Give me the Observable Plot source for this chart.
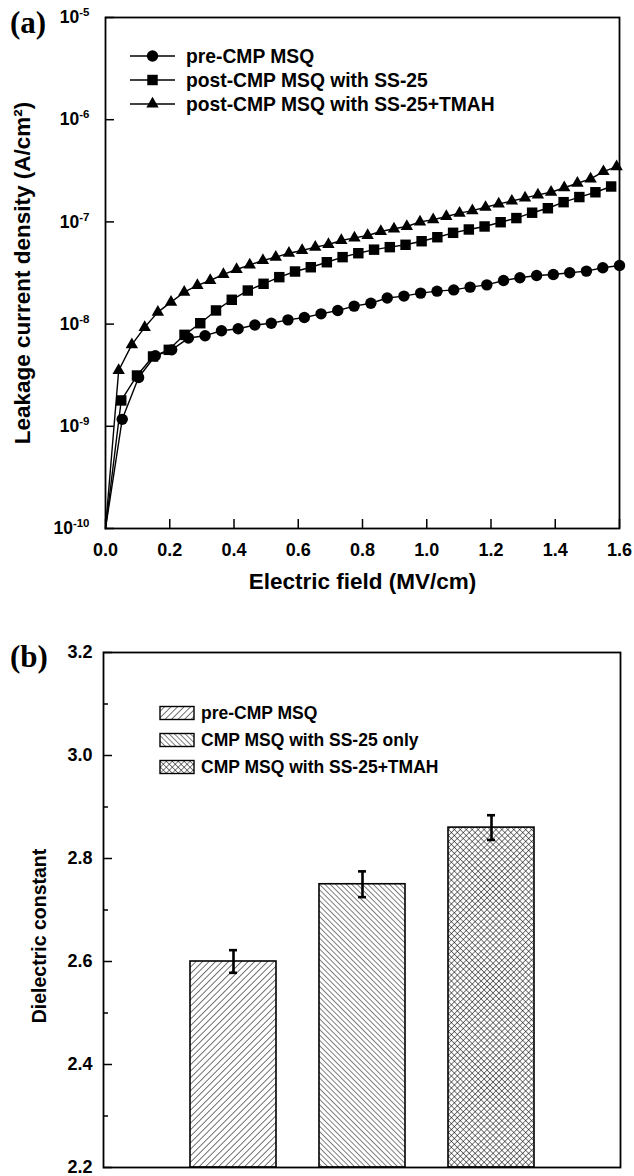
<!DOCTYPE html>
<html><head><meta charset="utf-8">
<script src="https://cdn.jsdelivr.net/npm/d3@7"></script>
<script src="https://cdn.jsdelivr.net/npm/@observablehq/plot@0.6"></script>
<style>
body{margin:0;background:#fff;}
#wrap{position:relative;width:634px;height:1176px;overflow:hidden;font-family:"Liberation Sans",Arial,sans-serif;background:#fff;}
.panel{position:absolute;left:0;}
.tag{position:absolute;font-family:"Liberation Serif","Times New Roman",serif;font-weight:bold;font-size:31px;line-height:1;}
</style></head><body>
<svg width="0" height="0" style="position:absolute">
<defs>
<pattern id="hatchA" patternUnits="userSpaceOnUse" width="4.6" height="4.6" patternTransform="rotate(45)"><rect width="4.6" height="4.6" fill="#fff"/><line x1="0" y1="0" x2="0" y2="4.6" stroke="#000" stroke-width="1.1"/></pattern>
<pattern id="hatchB" patternUnits="userSpaceOnUse" width="3.8" height="3.8" patternTransform="rotate(-45)"><rect width="3.8" height="3.8" fill="#fff"/><line x1="0" y1="0" x2="0" y2="3.8" stroke="#000" stroke-width="1"/></pattern>
<pattern id="hatchC" patternUnits="userSpaceOnUse" width="4.2" height="4.2" patternTransform="rotate(45)"><rect width="4.2" height="4.2" fill="#fff"/><line x1="0" y1="0" x2="0" y2="4.2" stroke="#000" stroke-width="1"/><line x1="0" y1="0" x2="4.2" y2="0" stroke="#000" stroke-width="1"/></pattern>
</defs></svg>
<div id="wrap">
  <div id="pa" class="panel" style="top:0"></div>
  <div id="pb" class="panel" style="top:630px"></div>
  <div class="tag" style="left:10px;top:7px">(a)</div>
  <div class="tag" style="left:10px;top:641px">(b)</div>
</div>
<script>
// ---------- Panel (a) data ----------
const seriesNames = ["pre-CMP MSQ", "post-CMP MSQ with SS-25", "post-CMP MSQ with SS-25+TMAH"];
const circleE = [0, 0.052, 0.103, 0.155, 0.206, 0.258, 0.310, 0.361, 0.413, 0.465, 0.516, 0.568, 0.619, 0.671, 0.723, 0.774, 0.826, 0.877, 0.929, 0.981, 1.032, 1.084, 1.135, 1.187, 1.239, 1.290, 1.342, 1.394, 1.445, 1.497, 1.548, 1.600];
const circleJ = [1e-10, 1.17e-9, 3.0e-9, 4.9e-9, 5.6e-9, 7.3e-9, 7.7e-9, 8.6e-9, 9.0e-9, 9.8e-9, 1.02e-8, 1.1e-8, 1.16e-8, 1.26e-8, 1.36e-8, 1.5e-8, 1.6e-8, 1.8e-8, 1.88e-8, 2.01e-8, 2.1e-8, 2.16e-8, 2.3e-8, 2.42e-8, 2.67e-8, 2.84e-8, 2.99e-8, 3.06e-8, 3.18e-8, 3.3e-8, 3.56e-8, 3.74e-8];
const squareE = [0, 0.049, 0.098, 0.148, 0.197, 0.246, 0.295, 0.344, 0.393, 0.443, 0.492, 0.541, 0.590, 0.639, 0.689, 0.738, 0.787, 0.836, 0.885, 0.934, 0.984, 1.033, 1.082, 1.131, 1.180, 1.230, 1.279, 1.328, 1.377, 1.426, 1.475, 1.525, 1.574];
const squareJ = [1e-10, 1.79e-9, 3.14e-9, 4.82e-9, 5.6e-9, 7.85e-9, 1.02e-8, 1.36e-8, 1.73e-8, 2.13e-8, 2.48e-8, 2.88e-8, 3.27e-8, 3.6e-8, 4.03e-8, 4.52e-8, 4.94e-8, 5.35e-8, 5.66e-8, 5.97e-8, 6.47e-8, 7.08e-8, 7.82e-8, 8.43e-8, 9.02e-8, 9.93e-8, 1.09e-7, 1.23e-7, 1.36e-7, 1.56e-7, 1.75e-7, 1.95e-7, 2.22e-7];
const triE = [0, 0.041, 0.082, 0.122, 0.163, 0.204, 0.245, 0.286, 0.326, 0.367, 0.408, 0.449, 0.490, 0.530, 0.571, 0.612, 0.653, 0.694, 0.734, 0.775, 0.816, 0.857, 0.898, 0.938, 0.979, 1.020, 1.061, 1.102, 1.142, 1.183, 1.224, 1.265, 1.306, 1.346, 1.387, 1.428, 1.469, 1.510, 1.550, 1.591];
const triJ = [1e-10, 3.52e-9, 6.3e-9, 9.3e-9, 1.31e-8, 1.64e-8, 2.05e-8, 2.39e-8, 2.67e-8, 3.06e-8, 3.42e-8, 3.8e-8, 4.19e-8, 4.52e-8, 4.94e-8, 5.25e-8, 5.66e-8, 6.01e-8, 6.58e-8, 6.98e-8, 7.36e-8, 8.06e-8, 8.56e-8, 9.02e-8, 1.0e-7, 1.05e-7, 1.13e-7, 1.22e-7, 1.29e-7, 1.39e-7, 1.5e-7, 1.6e-7, 1.72e-7, 1.84e-7, 1.95e-7, 2.16e-7, 2.39e-7, 2.64e-7, 3.11e-7, 3.48e-7];
const xTicksA = [0, 0.2, 0.4, 0.6, 0.8, 1.0, 1.2, 1.4, 1.6];
const yTicksA = [1e-10, 1e-9, 1e-8, 1e-7, 1e-6, 1e-5];
const xTitleA = "Electric field (MV/cm)";
const yTitleA = "Leakage current density (A/cm\u00B2)";

// ---------- Panel (b) data ----------
const barCategories = ["pre-CMP MSQ", "CMP MSQ with SS-25 only", "CMP MSQ with SS-25+TMAH"];
const barValues = [2.60, 2.75, 2.86];
const barErrors = [0.022, 0.025, 0.024];
const yTicksB = [2.2, 2.4, 2.6, 2.8, 3.0, 3.2];
const yMinorB = [2.3, 2.5, 2.7, 2.9, 3.1];
const yTitleB = "Dielectric constant";

const symbols = ["circle", "square", "triangle"];
const symR = {circle: 5.7, square: 5.9, triangle: 4.6};
const patterns = ["url(#hatchA)", "url(#hatchB)", "url(#hatchC)"];

const rows = [];
[[circleE, circleJ], [squareE, squareJ], [triE, triJ]].forEach(([E, J], i) => {
  E.forEach((e, k) => rows.push({series: seriesNames[i], sym: symbols[i], E: e, J: J[k]}));
});

const font = "'Liberation Sans', Arial, sans-serif";

const chartA = Plot.plot({
  width: 634, height: 630,
  marginTop: 17, marginLeft: 105, marginRight: 15, marginBottom: 102,
  x: {domain: [0, 1.6]},
  y: {type: "log", domain: [1e-10, 1e-5]},
  style: {fontFamily: font, fontSize: "18px", fontWeight: "bold", color: "#000", background: "#fff", overflow: "visible"},
  marks: [
    Plot.axisX({ticks: xTicksA, tickSize: -9, tickPadding: 24, tickFormat: d3.format(".1f"), label: null, strokeWidth: 1.5}),
    Plot.axisY({ticks: yTicksA, tickSize: -9, tickPadding: 25, tickFormat: d => String(Math.round(Math.log10(d))), label: null, strokeWidth: 1.5, fontSize: 17.5}),
    ...seriesNames.map((s, i) => Plot.line(rows.filter(r => r.series === s), {x: "E", y: "J", stroke: "#000", strokeWidth: 1.4})),
    ...seriesNames.map((s, i) => Plot.dot(rows.filter(r => r.series === s && r.E > 0), {x: "E", y: "J", symbol: symbols[i], r: symR[symbols[i]], fill: "#000", stroke: "none"})),
    Plot.frame({strokeWidth: 1.8}),
    Plot.text([xTitleA], {text: d => d, frameAnchor: "bottom", textAnchor: "middle", dy: 60, fontSize: 22.5, fontWeight: "bold"}),
    Plot.text([yTitleA], {text: d => d, frameAnchor: "left", textAnchor: "middle", dx: -83, rotate: -90, fontSize: 22.5, fontWeight: "bold"})
  ]
});
document.getElementById("pa").appendChild(chartA);

// superscript exponents on log axis labels
chartA.querySelectorAll('g[aria-label="y-axis tick label"] text').forEach(t => {
  const exp = t.textContent.replace("\u2212", "-");
  t.textContent = "10";
  const ts = document.createElementNS("http://www.w3.org/2000/svg", "tspan");
  ts.setAttribute("dy", "-7");
  ts.setAttribute("font-size", "11.5");
  ts.textContent = exp;
  t.appendChild(ts);
});

// legend (a)
{
  const svg = d3.select(chartA).append("g").attr("class", "legendA");
  const ys = [56, 80, 104];
  seriesNames.forEach((s, i) => {
    svg.append("line").attr("x1", 130).attr("x2", 175).attr("y1", ys[i]).attr("y2", ys[i]).attr("stroke", "#000").attr("stroke-width", 1.4);
    const sym = [d3.symbolCircle, d3.symbolSquare, d3.symbolTriangle][i];
    const r = symR[symbols[i]];
    svg.append("path").attr("d", d3.symbol(sym, Math.PI * r * r)()).attr("transform", `translate(152.5,${ys[i]})`).attr("fill", "#000");
    svg.append("text").attr("x", 186).attr("y", ys[i]).attr("dy", "0.35em").attr("text-anchor", "start").attr("font-size", 19.3).attr("font-weight", "bold").attr("font-family", font).text(s);
  });
}

// ---------- Panel (b) ----------
const bars = barCategories.map((c, i) => ({cat: c, v: barValues[i], e: barErrors[i], fill: patterns[i]}));

const chartB = Plot.plot({
  width: 634, height: 546,
  marginTop: 22, marginLeft: 103, marginRight: 14, marginBottom: 9,
  x: {type: "band", domain: barCategories, paddingInner: 1/3, paddingOuter: 2/3, axis: null},
  y: {domain: [2.2, 3.2]},
  style: {fontFamily: font, fontSize: "18px", fontWeight: "bold", color: "#000", background: "#fff", overflow: "visible"},
  marks: [
    Plot.barY(bars, {x: "cat", y1: 2.2, y2: "v", fill: "fill", stroke: "#000", strokeWidth: 1.6}),
    Plot.ruleX(bars, {x: "cat", y1: d => d.v - d.e, y2: d => d.v + d.e, stroke: "#000", strokeWidth: 2.6}),
    Plot.tickY(bars, {x: "cat", y: d => d.v + d.e, insetLeft: 39, insetRight: 39, stroke: "#000", strokeWidth: 2.6}),
    Plot.tickY(bars, {x: "cat", y: d => d.v - d.e, insetLeft: 39, insetRight: 39, stroke: "#000", strokeWidth: 2.6}),
    Plot.axisY({ticks: yTicksB, tickSize: -9, tickPadding: 20, tickFormat: d3.format(".1f"), label: null, strokeWidth: 1.5}),
    Plot.axisY({ticks: yMinorB, tickSize: -5, tickFormat: () => "", label: null, strokeWidth: 1.5}),
    Plot.frame({strokeWidth: 1.8}),
    Plot.text([yTitleB], {text: d => d, frameAnchor: "left", textAnchor: "middle", dx: -64, dy: 26, rotate: -90, fontSize: 19.5, fontWeight: "bold"})
  ]
});
document.getElementById("pb").appendChild(chartB);

// legend (b)
{
  const svg = d3.select(chartB).append("g").attr("class", "legendB");
  const ys = [83, 110, 137];
  barCategories.forEach((c, i) => {
    svg.append("rect").attr("x", 160).attr("y", ys[i] - 6.5).attr("width", 34).attr("height", 13).attr("fill", patterns[i]).attr("stroke", "#000").attr("stroke-width", 1.4);
    svg.append("text").attr("x", 201).attr("y", ys[i]).attr("dy", "0.35em").attr("text-anchor", "start").attr("font-size", 17.5).attr("font-weight", "bold").attr("font-family", font).text(c);
  });
}
</script>
</body></html>
